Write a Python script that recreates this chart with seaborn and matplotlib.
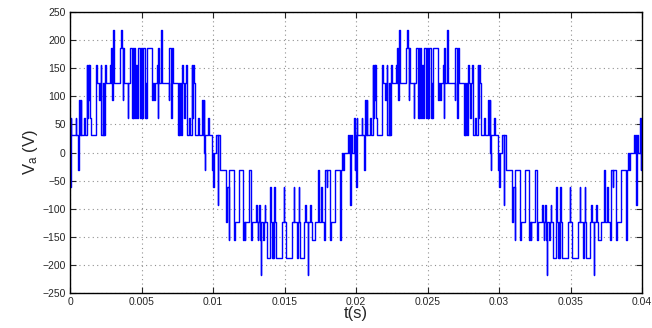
## multilevel inverter phase voltage, two fundamental periods

import numpy as np
import pandas as pd
import matplotlib
matplotlib.use("Agg")
import matplotlib.pyplot as plt
import seaborn as sns

## switching instants (ms) of one 20 ms period
period_t_ms = [
    0.00, 0.04, 0.09, 0.40, 0.45, 0.55, 0.62, 0.66, 0.70, 0.74, 0.78, 1.00,
    1.05, 1.16, 1.20, 1.25, 1.30, 1.36, 1.40, 1.45, 1.80, 1.88, 2.03, 2.07,
    2.14, 2.20, 2.28, 2.31, 2.36, 2.40, 2.46, 2.51, 2.78, 2.84, 2.90, 2.95,
    3.02, 3.07, 3.50, 3.57, 3.62, 3.68, 3.73, 3.78, 4.02, 4.08, 4.18, 4.34,
    4.38, 4.42, 4.46, 4.53, 4.64, 4.68, 4.74, 4.90, 4.95, 5.03, 5.07, 5.27,
    5.31, 5.34, 5.38, 5.73, 5.80, 5.88, 5.95, 6.08, 6.14, 6.18, 6.25, 6.36,
    6.41, 6.46, 6.90, 6.95, 7.06, 7.10, 7.20, 7.55, 7.60, 7.64, 7.69, 7.73,
    7.80, 7.88, 7.98, 8.04, 8.10, 8.16, 8.32, 8.37, 8.50, 8.56, 8.62, 8.68,
    8.73, 8.97, 9.02, 9.22, 9.28, 9.34, 9.40, 9.43, 9.47, 9.67, 9.72, 9.94,
    9.99, 10.03, 10.07, 10.22, 10.33, 10.37, 10.46, 10.92, 10.98, 11.10, 11.14, 11.50,
    11.56, 11.85, 12.08, 12.14, 12.22, 12.26, 12.55, 12.66, 12.72, 13.01, 13.06, 13.13,
    13.17, 13.25, 13.29, 13.33, 13.38, 13.50, 13.55, 13.62, 13.66, 13.80, 14.00, 14.04,
    14.10, 14.17, 14.22, 14.29, 14.33, 14.38, 14.85, 14.95, 14.99, 15.08, 15.55, 15.64,
    15.68, 15.86, 15.92, 15.99, 16.03, 16.10, 16.36, 16.42, 16.47, 16.62, 16.67, 16.75,
    16.82, 16.92, 17.15, 17.34, 17.42, 17.56, 17.60, 17.73, 17.85, 17.96, 18.00, 18.20,
    18.25, 18.50, 18.89, 18.96, 19.03, 19.08, 19.14, 19.47, 19.53, 19.56, 19.59, 19.62,
    19.71, 19.87, 19.91, 19.96,
]

## voltage level held after each instant (V)
period_v = [
    -62, 62, 31, 62, 31, -31, 31, 93, 31, 93, 31, 62,
    31, 155, 62, 155, 93, 155, 62, 31, 155, 124, 93, 124,
    155, 31, 124, 31, 124, 31, 155, 124, 155, 124, 186, 93,
    218, 124, 186, 218, 186, 93, 186, 124, 62, 124, 186, 62,
    186, 62, 186, 62, 155, 62, 186, 62, 186, 62, 186, 62,
    124, 62, 186, 93, 124, 93, 124, 155, 62, 186, 124, 218,
    186, 124, 93, 186, 62, 186, 124, 31, 124, 31, 124, 31,
    155, 124, 62, 124, 155, 31, 62, 31, 155, 62, 155, 124,
    31, 62, 31, 93, 31, 93, 0, -31, 31, 62, 31, -31,
    0, -62, 0, 31, -93, 31, -31, -124, -62, -155, -31, -155,
    -124, -31, -155, -124, -155, -124, -31, -155, -124, -93, -124, -155,
    -124, -93, -155, -218, -124, -155, -124, -93, -124, -188, -62, -124,
    -188, -124, -188, -62, -124, -188, -124, -62, -124, -188, -124, -62,
    -124, -188, -124, -62, -124, -188, -124, -93, -124, -218, -124, -93,
    -124, -155, -124, -31, -124, -62, -124, -155, -31, -62, -31, -155,
    -124, -31, -155, -31, 0, -31, 0, 31, 0, 31, -93, 31,
    0, 62, -31, 31,
]

## the second period repeats the first
period_starts_ms = [0.0, 20.0]
t_end_ms = 40.0

t_ms = []
v = []
for start in period_starts_ms:
    t_ms += [start + tt for tt in period_t_ms]
    v += period_v
t_ms.append(t_end_ms)
v.append(v[-1])

df = pd.DataFrame({"t": np.array(t_ms) / 1000.0, "v": v})

sns.set_style("ticks")
plt.rcParams["font.family"] = ["Liberation Sans", "DejaVu Sans"]
plt.rcParams["mathtext.fontset"] = "custom"
plt.rcParams["mathtext.rm"] = "Liberation Sans"
plt.rcParams["mathtext.it"] = "Liberation Sans"

fig = plt.figure(figsize=(6.52, 3.28), dpi=100)
ax = fig.add_axes([0.1074, 0.1067, 0.8773, 0.8567])

sns.lineplot(data=df, x="t", y="v", ax=ax, estimator=None, sort=True,
             drawstyle="steps-post", color="#0000ff", linewidth=1.0)

ax.set_xlim(0, 0.04)
ax.set_ylim(-250, 250)
ax.set_xticks(np.arange(0, 0.0401, 0.005))
ax.set_xticklabels(["0", "0.005", "0.01", "0.015", "0.02", "0.025",
                    "0.03", "0.035", "0.04"])
ax.set_yticks(np.arange(-250, 251, 50))
ax.grid(True, linestyle=(0, (1, 3)), color="#909090", linewidth=0.8)
ax.tick_params(direction="in", top=True, right=True, length=4,
               width=0.8, labelsize=7.5, pad=3)
for s in ax.spines.values():
    s.set_linewidth(1.0)
    s.set_color("black")

ax.set_xlabel("t(s)", fontsize=12, labelpad=-1)
ax.set_ylabel(r"V$_\mathregular{a}$ (V)", fontsize=12, labelpad=2)

fig.savefig("out.png", dpi=100)
